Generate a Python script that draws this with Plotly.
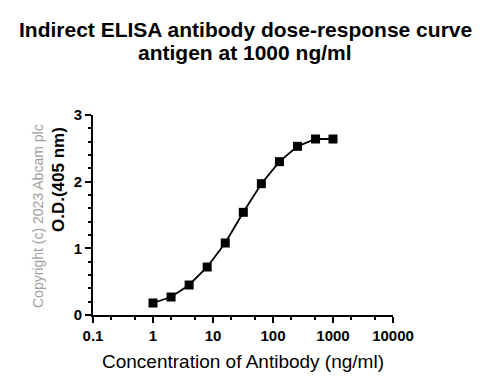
import plotly.graph_objects as go

concentration = [1, 2, 4, 8, 16, 32, 64, 128, 256, 512, 1000]
od_405 = [0.18, 0.27, 0.45, 0.72, 1.08, 1.54, 1.97, 2.30, 2.53, 2.64, 2.64]
x_tickvals = [0.1, 1, 10, 100, 1000, 10000]
x_ticktext = ["0.1", "1", "10", "100", "1000", "10000"]
y_tickvals = [0, 1, 2, 3]

FONT = "Liberation Sans, Arial, sans-serif"

fig = go.Figure()
fig.add_trace(go.Scatter(
    x=concentration, y=od_405, mode="lines+markers",
    line=dict(color="black", width=1.8),
    marker=dict(symbol="square", size=9, color="black"),
    showlegend=False,
))

# positions relative to plot area (plot area spans 300 x 200 px)
def py(p):
    return (315 - p) / 200.0

def px(p):
    return (p - 93) / 300.0

fig.update_layout(
    width=487, height=386,
    margin=dict(l=85, r=102, t=107, b=79, autoexpand=False),
    paper_bgcolor="white", plot_bgcolor="white",
    font=dict(family=FONT, color="black"),
    xaxis=dict(
        type="log", range=[-1, 4], automargin=False,
        tickvals=x_tickvals, ticktext=x_ticktext,
        tickfont=dict(size=15, family=FONT, color="black", weight="bold"),
        ticks="outside", ticklen=6, tickwidth=2, tickcolor="black",
        showline=True, linewidth=2, linecolor="black",
        showgrid=False, zeroline=False,
        minor=dict(ticks="outside", ticklen=3, tickwidth=1.5, tickcolor="black", showgrid=False),
    ),
    yaxis=dict(
        range=[0, 3], tickvals=y_tickvals, automargin=False,
        tickfont=dict(size=15, family=FONT, color="black", weight="bold"),
        ticks="outside", ticklen=6, tickwidth=2, tickcolor="black",
        showline=True, linewidth=2, linecolor="black",
        showgrid=False, zeroline=False,
        minor=dict(ticks="outside", ticklen=3, tickwidth=1.5, tickcolor="black", dtick=0.2, showgrid=False),
    ),
    annotations=[
        dict(text="<b>Indirect ELISA antibody dose-response curve</b>", xref="paper", yref="paper",
             x=px(245), y=py(30), showarrow=False, xanchor="center", yanchor="middle",
             font=dict(size=21, family=FONT, color="black")),
        dict(text="<b>antigen at 1000 ng/ml</b>", xref="paper", yref="paper",
             x=px(245), y=py(52), showarrow=False, xanchor="center", yanchor="middle",
             font=dict(size=21, family=FONT, color="black")),
        dict(text="Concentration of Antibody (ng/ml)", xref="paper", yref="paper",
             x=px(243), y=py(361), showarrow=False, xanchor="center", yanchor="middle",
             font=dict(size=19, family=FONT, color="black")),
        dict(text="<b>O.D.(405 nm)</b>", xref="paper", yref="paper", x=px(58), y=py(180),
             textangle=-90, showarrow=False, xanchor="center", yanchor="middle",
             font=dict(size=17, family=FONT, color="black")),
        dict(text="Copyright (c) 2023 Abcam plc", xref="paper", yref="paper", x=px(38), y=py(216),
             textangle=-90, showarrow=False, xanchor="center", yanchor="middle",
             font=dict(size=14, family=FONT, color="#a0a0a0")),
    ],
)

fig.write_html("out.html")
